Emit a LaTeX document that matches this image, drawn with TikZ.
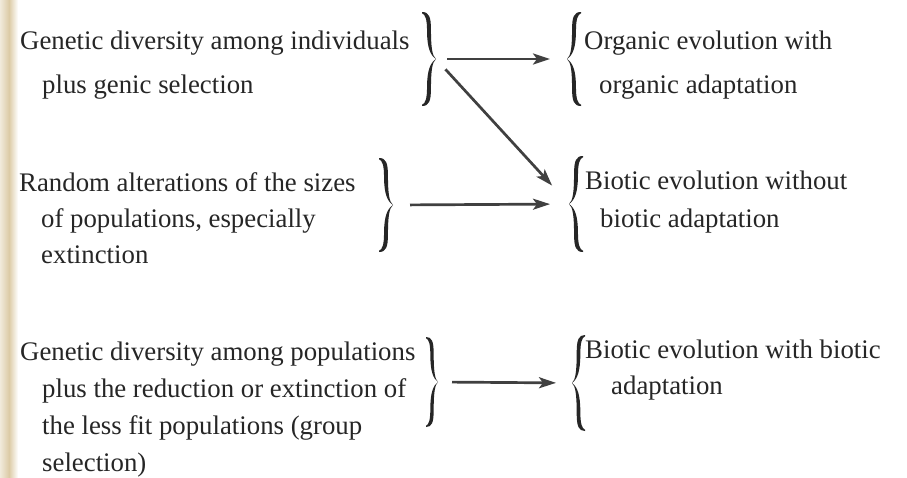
\documentclass[tikz,border=0pt]{standalone}
\usepackage{fontspec}
\setmainfont{Liberation Serif}
\usetikzlibrary{arrows.meta}
\definecolor{ink}{HTML}{262626}
\definecolor{arrink}{HTML}{404040}
\definecolor{edgetan}{HTML}{DCCBA6}
\newcommand\blk[2]{\parbox[t]{470pt}{\fontsize{26.8}{#1}\selectfont #2}}
% #1 tip coordinate, #2 width, #3 half height, #4 +1 for } or -1 for {
\newcommand\mybrace[4]{%
\fill[ink, shift={(#1)}, xscale=#4]
 (-#2,-#3) .. controls ({-0.5*#2},{-#3}) and ({-0.36*#2},{-0.9*#3}) .. ({-0.36*#2},{-0.62*#3})
 .. controls ({-0.36*#2},{-0.25*#3}) and ({-0.27*#2},{-0.06*#3}) .. (0,0)
 .. controls ({-0.42*#2},{-0.08*#3}) and ({-0.64*#2},{-0.25*#3}) .. ({-0.64*#2},{-0.6*#3})
 .. controls ({-0.64*#2},{-0.84*#3}) and ({-0.76*#2},{-0.95*#3}) .. (-#2,{-#3+1.3}) -- cycle
 (-#2,#3) .. controls ({-0.5*#2},{#3}) and ({-0.36*#2},{0.9*#3}) .. ({-0.36*#2},{0.62*#3})
 .. controls ({-0.36*#2},{0.25*#3}) and ({-0.27*#2},{0.06*#3}) .. (0,0)
 .. controls ({-0.42*#2},{0.08*#3}) and ({-0.64*#2},{0.25*#3}) .. ({-0.64*#2},{0.6*#3})
 .. controls ({-0.64*#2},{0.84*#3}) and ({-0.76*#2},{0.95*#3}) .. (-#2,{#3-1.3}) -- cycle;}
\begin{document}
\begin{tikzpicture}[x=1pt,y=-1pt,
  txt/.style={inner sep=0pt, anchor=base west, text=ink},
  arr/.style={draw=arrink, line width=2.7pt, -{Stealth[length=17pt,width=11pt,inset=4pt]}}]
\useasboundingbox (0,0) rectangle (907,477);
\fill[white] (0,0) rectangle (907,477);
\shade[left color=edgetan!40, right color=edgetan] (0,0) rectangle (9,477);
\shade[left color=edgetan, right color=white] (9,0) rectangle (18,477);
% sources
\node[txt] (s1) at (20,49) {\blk{44}{Genetic diversity among individuals\\\hspace*{22pt}plus genic selection}};
\node[txt] (s2) at (19,191) {\blk{36}{Random alterations of the sizes\\\hspace*{22pt}of populations, especially\\\hspace*{22pt}extinction}};
\node[txt] (s3) at (20,360) {\blk{37}{Genetic diversity among populations\\\hspace*{22pt}plus the reduction or extinction of\\\hspace*{22pt}the less fit populations (group\\\hspace*{22pt}selection)}};
% targets
\node[txt] (t1) at (584,49) {\blk{44}{Organic evolution with\\\hspace*{15pt}organic adaptation}};
\node[txt] (t2) at (585,189) {\blk{38}{Biotic evolution without\\\hspace*{15pt}biotic adaptation}};
\node[txt] (t3) at (585,358) {\blk{36}{Biotic evolution with biotic\\\hspace*{26pt}adaptation}};
% brace tips
\coordinate (rb1) at (436,59);
\coordinate (lb1) at (567,59);
\coordinate (rb2) at (393,205);
\coordinate (lb2) at (569,204);
\coordinate (rb3) at (438,382);
\coordinate (lb3) at (572,383);
% braces
\mybrace{rb1}{14}{47}{1}
\mybrace{lb1}{14}{47}{-1}
\mybrace{rb2}{14}{47}{1}
\mybrace{lb2}{14}{48}{-1}
\mybrace{rb3}{12}{45}{1}
\mybrace{lb3}{13}{48}{-1}
% arrows
\draw[arr, shorten <=11pt, shorten >=17pt] (rb1) -- (lb1);
\draw[arr, shorten <=14pt, shorten >=25pt] (rb1) -- (lb2);
\draw[arr, shorten <=17pt, shorten >=19pt] (rb2) -- (lb2);
\draw[arr, shorten <=14pt, shorten >=16pt] (rb3) -- (lb3);
\end{tikzpicture}
\end{document}
